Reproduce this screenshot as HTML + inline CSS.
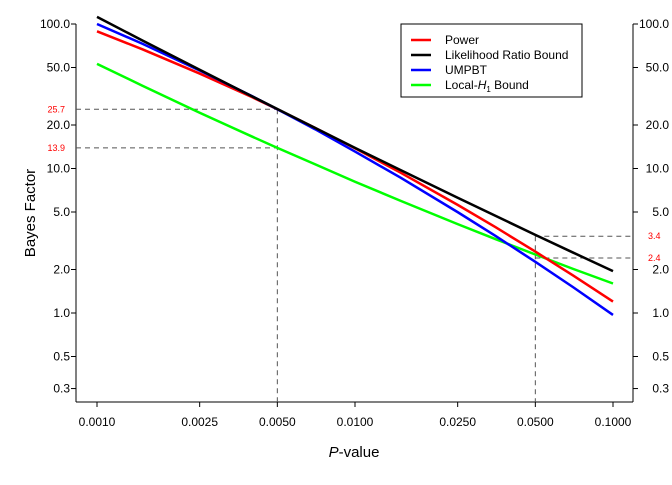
<!DOCTYPE html>
<html><head><meta charset="utf-8"><style>
body{margin:0;background:#fff}
svg{font-family:"Liberation Sans",Arial,sans-serif}
</style></head><body>
<svg id="chart" width="672" height="480">
<g id="axes"></g><g id="guides"></g><g id="series"></g>
<g>
<rect x="401" y="24" width="181" height="73" fill="#fff" stroke="#000" stroke-width="1"/>
<line x1="411" y1="40" x2="431" y2="40" stroke="#f00" stroke-width="2.5"/><text x="445" y="44" font-size="12">Power</text>
<line x1="411" y1="55" x2="431" y2="55" stroke="#000" stroke-width="2.5"/><text x="445" y="59" font-size="12">Likelihood Ratio Bound</text>
<line x1="411" y1="70" x2="431" y2="70" stroke="#00f" stroke-width="2.5"/><text x="445" y="74" font-size="12">UMPBT</text>
<line x1="411" y1="85" x2="431" y2="85" stroke="#0f0" stroke-width="2.5"/><text x="445" y="89" font-size="12">Local-<tspan font-style="italic">H</tspan><tspan font-size="8" dy="3">1</tspan><tspan dy="-3"> Bound</tspan></text>
</g>
<text x="354" y="457" font-size="15" text-anchor="middle"><tspan font-style="italic">P</tspan>-value</text>
<text transform="translate(35,213) rotate(-90)" font-size="15" text-anchor="middle">Bayes Factor</text>
</svg>
<script>
const pvals=[0.001,0.0015,0.0025,0.004,0.005,0.007,0.01,0.015,0.025,0.035,0.05,0.07,0.1];
const powerBF=[89,66.8,45.4,31.1,25.7,19.1,13.8,9.37,5.6,3.93,2.66,1.82,1.2];
const lrBF=[112,76.9,48.2,31.5,25.8,19.1,13.9,9.77,6.28,4.71,3.47,2.62,1.95];
const umpbtBF=[100,73,47.7,31.6,25.7,18.7,13.1,8.65,4.99,3.42,2.26,1.51,0.97];
const localBF=[53,37.4,24.3,16.6,13.9,10.7,8.1,5.98,4.12,3.25,2.54,2.02,1.6];
const xTicks=[0.001,0.0025,0.005,0.01,0.025,0.05,0.1];
const xTickLabels=["0.0010","0.0025","0.0050","0.0100","0.0250","0.0500","0.1000"];
const yTicks=[100,50,20,10,5,2,1,0.5,0.3];
const yTickLabels=["100.0","50.0","20.0","10.0","5.0","2.0","1.0","0.5","0.3"];
const leftMarks=[25.7,13.9];const leftMarkP=0.005;
const rightMarks=[3.4,2.4];const rightMarkP=0.05;
const NS="http://www.w3.org/2000/svg";
const X=p=>97+258*(Math.log10(p)+3);
const Y=v=>313-144.5*Math.log10(v);
function mk(parent,tag,attrs){const e=document.createElementNS(NS,tag);for(const k in attrs)e.setAttribute(k,attrs[k]);document.getElementById(parent).appendChild(e);return e;}
const L=76,R=633,B=402,T=24;
let e=mk('axes','line',{x1:L,y1:T,x2:L,y2:B,stroke:'#000'});


e=mk('axes','line',{x1:R,y1:T,x2:R,y2:B,stroke:'#000'});


e=mk('axes','line',{x1:L,y1:B,x2:R,y2:B,stroke:'#000'});


xTicks.forEach((t,i)=>{mk('axes','line',{x1:X(t),y1:B,x2:X(t),y2:B+5,stroke:'#000'});
const tx=mk('axes','text',{x:X(t),y:B+24,'font-size':12,'text-anchor':'middle'});tx.textContent=xTickLabels[i];

});
yTicks.forEach((t,i)=>{const y=Y(t);
mk('axes','line',{x1:L-5,y1:y,x2:L,y2:y,stroke:'#000'});
mk('axes','line',{x1:R,y1:y,x2:R+5,y2:y,stroke:'#000'});
let a=mk('axes','text',{x:L-6,y:y+4,'font-size':12,'text-anchor':'end'});a.textContent=yTickLabels[i];


let b=mk('axes','text',{x:R+36,y:y+4,'font-size':12,'text-anchor':'end'});b.textContent=yTickLabels[i];

});
const dash={stroke:'#555','stroke-dasharray':'5,4','stroke-width':1};
leftMarks.forEach(v=>{const g=mk('guides','line',Object.assign({x1:L,y1:Y(v),x2:X(leftMarkP),y2:Y(v)},dash));


const t=mk('guides','text',{x:L-11,y:Y(v)+3,'font-size':9,fill:'#f00','text-anchor':'end'});t.textContent=v.toFixed(1);

});
mk('guides','line',Object.assign({x1:X(leftMarkP),y1:Y(leftMarks[0]),x2:X(leftMarkP),y2:B},dash));
rightMarks.forEach(v=>{const g=mk('guides','line',Object.assign({x1:X(rightMarkP),y1:Y(v),x2:R,y2:Y(v)},dash));


const t=mk('guides','text',{x:R+15,y:Y(v)+3,'font-size':9,fill:'#f00'});t.textContent=v.toFixed(1);

});
mk('guides','line',Object.assign({x1:X(rightMarkP),y1:Y(rightMarks[0]),x2:X(rightMarkP),y2:B},dash));
[[localBF,'#0f0','local-h1-line'],[powerBF,'#f00','power-line'],[umpbtBF,'#00f','umpbt-line'],[lrBF,'#000','lr-bound-line']].forEach(([d,c,n])=>{
const p=mk('series','polyline',{points:pvals.map((x,i)=>X(x)+','+Y(d[i])).join(' '),fill:'none',stroke:c,'stroke-width':2.5,'stroke-linejoin':'round'});

});
</script>
</body></html>
